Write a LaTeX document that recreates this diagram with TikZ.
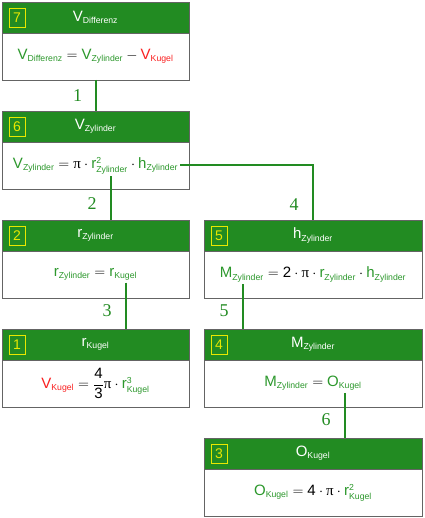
\documentclass[tikz,border=0pt]{standalone}
\usepackage{amsmath}
\usepackage{fontspec}
\setmainfont{Liberation Sans}
\newfontfamily\tnr{Liberation Serif}
\usetikzlibrary{positioning}
\definecolor{hgreen}{RGB}{34,139,34}
\definecolor{tgreen}{RGB}{44,152,44}
\definecolor{tred}{RGB}{250,32,32}
\definecolor{frame}{RGB}{100,100,100}
\definecolor{nyellow}{RGB}{232,232,0}
\DeclareMathSizes{15}{15}{8.7}{7}
\newcommand{\gv}[2]{\textcolor{tgreen}{\text{#1}_{\text{#2}}}}
\newcommand{\rv}[2]{\textcolor{tred}{\text{#1}_{\text{#2}}}}
\newcommand{\gsq}[3]{\textcolor{tgreen}{\text{#1}^{\text{#3}}_{\text{#2}}}}
\newcommand{\wv}[2]{\text{#1}_{\text{#2}}}
\newcommand{\PI}{\text{\tnr π}}

\begin{document}
\begin{tikzpicture}[font=\fontsize{15}{18}\selectfont,
    head/.style={rectangle, draw=frame, line width=0.8pt, fill=hgreen, text=white, minimum height=31pt, inner sep=0pt, outer sep=0pt},
    body/.style={rectangle, draw=frame, line width=0.8pt, fill=white, minimum height=47pt, inner sep=0pt, outer sep=0pt},
    narrow/.style={minimum width=187pt},
    wide/.style={minimum width=218pt},
    numbox/.style={rectangle, draw=nyellow, line width=0.9pt, text=nyellow, minimum width=16pt, minimum height=19pt, inner sep=0pt, font=\fontsize{14}{14}\selectfont},
    formula/.style={inner sep=2pt},
    link/.style={draw=hgreen, line width=2pt},
    lbl/.style={text=hgreen, font=\tnr\fontsize{18}{18}\selectfont}]

    \useasboundingbox (0,0) rectangle (424pt,-518pt);

    % Cards - left column
    \node[head, narrow, anchor=north west] (h7) at (2pt,-2pt) {$\wv{V}{Differenz}$};
    \node[body, narrow, below=0pt of h7] (b7) {};
    \node[formula] (f7) at (b7) {$\gv{V}{Differenz} = \gv{V}{Zylinder} - \rv{V}{Kugel}$};
    \node[numbox] (n7) at ([xshift=15pt]h7.west) {7};

    \node[head, narrow, below=31pt of b7] (h6) {$\wv{V}{Zylinder}$};
    \node[body, narrow, below=0pt of h6] (b6) {};
    \node[formula] (f6) at (b6) {$\gv{V}{Zylinder} = \PI\cdot\gsq{r}{Zylinder}{2}\cdot\gv{h}{Zylinder}$};
    \node[numbox] (n6) at ([xshift=15pt]h6.west) {6};

    \node[head, narrow, below=31pt of b6] (h2) {$\wv{r}{Zylinder}$};
    \node[body, narrow, below=0pt of h2] (b2) {};
    \node[formula] (f2) at (b2) {$\gv{r}{Zylinder} = \gv{r}{Kugel}$};
    \node[numbox] (n2) at ([xshift=15pt]h2.west) {2};

    \node[head, narrow, below=31pt of b2] (h1) {$\wv{r}{Kugel}$};
    \node[body, narrow, below=0pt of h1] (b1) {};
    \node[formula] (f1) at (b1) {$\rv{V}{Kugel} = \dfrac{\text{4}}{\text{3}}\PI\cdot\gsq{r}{Kugel}{3}$};
    \node[numbox] (n1) at ([xshift=15pt]h1.west) {1};

    % Cards - right column
    \node[head, wide, right=15pt of h2] (h5) {$\wv{h}{Zylinder}$};
    \node[body, wide, below=0pt of h5] (b5) {};
    \node[formula] (f5) at (b5) {$\gv{M}{Zylinder} = \text{2}\cdot\PI\cdot\gv{r}{Zylinder}\cdot\gv{h}{Zylinder}$};
    \node[numbox] (n5) at ([xshift=15pt]h5.west) {5};

    \node[head, wide, below=31pt of b5] (h4) {$\wv{M}{Zylinder}$};
    \node[body, wide, below=0pt of h4] (b4) {};
    \node[formula] (f4) at (b4) {$\gv{M}{Zylinder} = \gv{O}{Kugel}$};
    \node[numbox] (n4) at ([xshift=15pt]h4.west) {4};

    \node[head, wide, below=31pt of b4] (h3) {$\wv{O}{Kugel}$};
    \node[body, wide, below=0pt of h3] (b3) {};
    \node[formula] (f3) at (b3) {$\gv{O}{Kugel} = \text{4}\cdot\PI\cdot\gsq{r}{Kugel}{2}$};
    \node[numbox] (n3) at ([xshift=15pt]h3.west) {3};

    % Connector end points
    \coordinate (t2) at ([xshift=15.5pt]h2.north);
    \coordinate (t1) at ([xshift=30.5pt]h1.north);
    \coordinate (t4) at ([xshift=-70pt]h4.north);
    \coordinate (t3) at ([xshift=32pt]h3.north);

    % Connectors
    \draw[link] (b7) -- node[lbl, left=9pt] {1} (h6);
    \draw[link] (f6.south -| t2) -- node[lbl, pos=0.62, left=10pt] {2} (t2);
    \draw[link] (f6.east) -| node[lbl, pos=0.86, left=10pt] {4} (h5.north);
    \draw[link] (f2.south -| t1) -- node[lbl, pos=0.6, left=10pt] {3} (t1);
    \draw[link] (f5.south -| t4) -- node[lbl, pos=0.6, left=10pt] {5} (t4);
    \draw[link] (f4.south -| t3) -- node[lbl, pos=0.6, left=10pt] {6} (t3);
\end{tikzpicture}
\end{document}
